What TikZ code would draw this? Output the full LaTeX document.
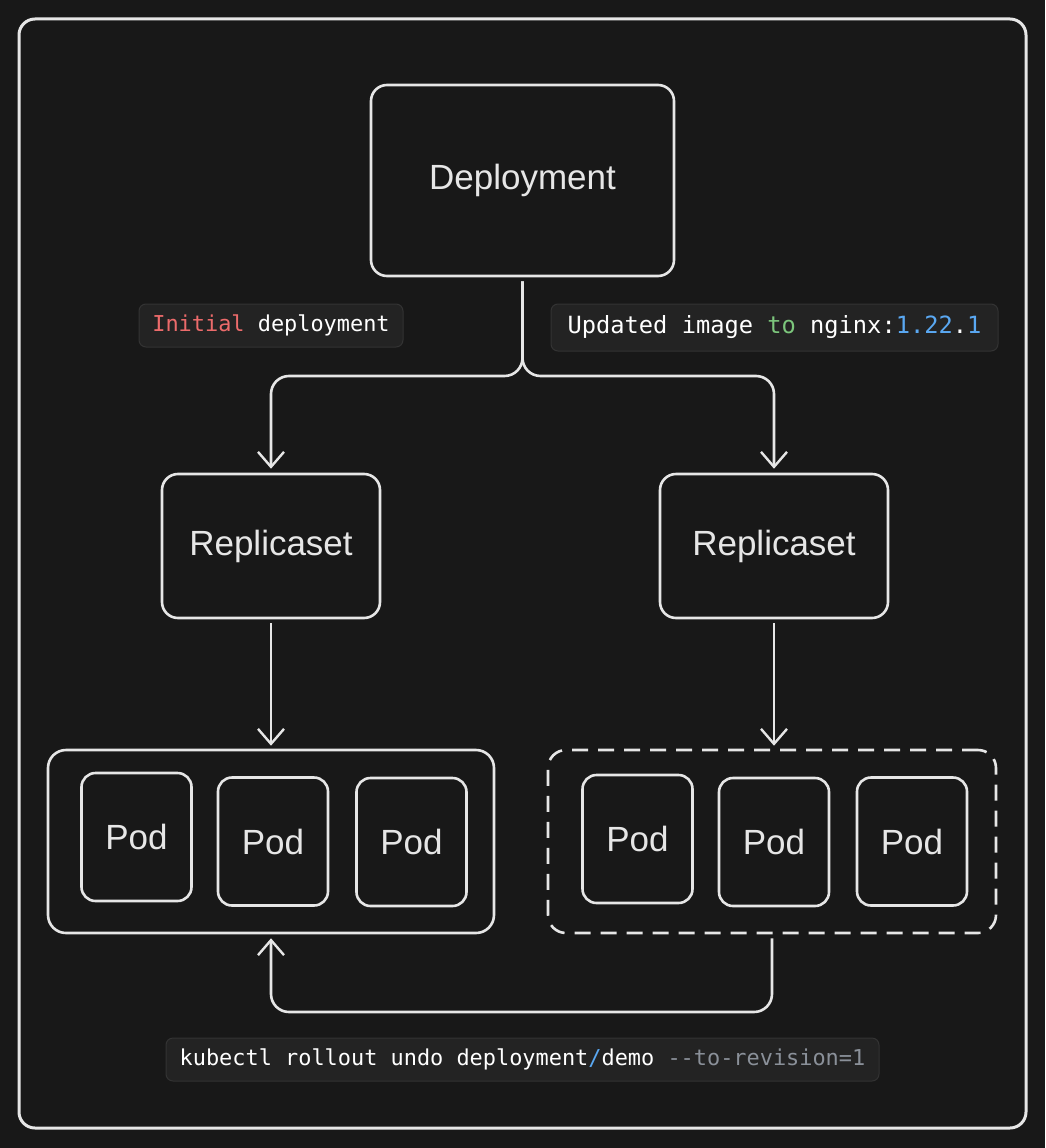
\documentclass[tikz,border=0pt]{standalone}
\usepackage{fontspec}
\usetikzlibrary{arrows.meta}
\newfontfamily\sketchfont{Liberation Sans}
\newfontfamily\codefont{DejaVu Sans Mono}
\definecolor{bgc}{HTML}{181818}
\definecolor{ink}{HTML}{E6E6E6}
\definecolor{chipbg}{HTML}{232323}
\definecolor{chipline}{HTML}{333333}
\definecolor{kwred}{HTML}{EC6B6B}
\definecolor{kwgreen}{HTML}{7CC67C}
\definecolor{kwblue}{HTML}{5AA8F2}
\definecolor{kwgray}{HTML}{8A9099}
\tikzset{
  box/.style={draw=ink, line width=2.6pt, rounded corners=16pt, text=ink,
    font=\sketchfont\fontsize{35}{40}\selectfont, inner sep=0pt},
  podbox/.style={box, rounded corners=14pt, minimum width=110pt, minimum height=128pt},
  group/.style={draw=ink, line width=2.6pt, rounded corners=18pt, inner sep=0pt},
  chip/.style={fill=chipbg, draw=chipline, line width=1pt, rounded corners=7pt,
    text=white, inner sep=0pt, anchor=center},
  flow/.style={draw=ink, line width=2.6pt, rounded corners=18pt,
    -{Straight Barb[length=15pt, width=26pt, line width=2.4pt]}}
}
\begin{document}
\begin{tikzpicture}[x=1pt, y=-1pt]
\useasboundingbox[fill=bgc] (0,0) rectangle (1045,1148);
\node[draw=ink, line width=3pt, rounded corners=16pt, minimum width=1007pt, minimum height=1109pt, inner sep=0pt] (frame) at (522.5,573.5) {};

\node[box, minimum width=303pt, minimum height=191pt] (deploy) at (522.5,180.5) {Deployment};
\node[box, minimum width=218pt, minimum height=144pt] (rsL) at (271,546) {Replicaset};
\node[box, minimum width=228pt, minimum height=144pt] (rsR) at (774,546) {Replicaset};

\node[group, minimum width=446pt, minimum height=183pt] (grpL) at (271,841.5) {};
\node[group, dashed, dash pattern=on 16pt off 10pt, minimum width=448pt, minimum height=183pt] (grpR) at (772,841.5) {};

\node[podbox] (p1) at (136.5,837) {Pod};
\node[podbox] (p2) at (273,841.5) {Pod};
\node[podbox] (p3) at (411.5,842) {Pod};
\node[podbox] (p4) at (637.5,839) {Pod};
\node[podbox] (p5) at (774,842) {Pod};
\node[podbox] (p6) at (912,841.5) {Pod};

\coordinate (split) at (522.5,376);
\coordinate (ret) at (271,1012);

\draw[flow, shorten >=4pt, shorten <=4pt] (deploy.south) -- (split) -| (rsL.north);
\draw[flow, shorten >=4pt, shorten <=4pt] (deploy.south) -- (split) -| (rsR.north);
\draw[flow, shorten >=3pt, shorten <=4pt] (rsL.south) -- (rsL.south |- grpL.north);
\draw[flow, shorten >=3pt, shorten <=4pt] (rsR.south) -- (rsR.south |- grpR.north);
\draw[flow, shorten >=4pt, shorten <=4pt] (grpR.south) |- (ret) -- (grpL.south);

\node[chip, minimum width=264pt, minimum height=43pt, font=\codefont\fontsize{21.9}{26}\selectfont] (lab1) at (271,325.5)
  {\textcolor{kwred}{Initial} deployment};
\node[chip, minimum width=447pt, minimum height=47pt, font=\codefont\fontsize{23.7}{28}\selectfont] (lab2) at (774.5,327.5)
  {Updated image \textcolor{kwgreen}{to} nginx:\textcolor{kwblue}{1.22}.\textcolor{kwblue}{1}};
\node[chip, minimum width=713pt, minimum height=43pt, font=\codefont\fontsize{21.9}{26}\selectfont] (lab3) at (522.5,1059.5)
  {kubectl rollout undo deployment\textcolor{kwblue}{/}demo \textcolor{kwgray}{-{}-to-revision=1}};
\end{tikzpicture}
\end{document}
